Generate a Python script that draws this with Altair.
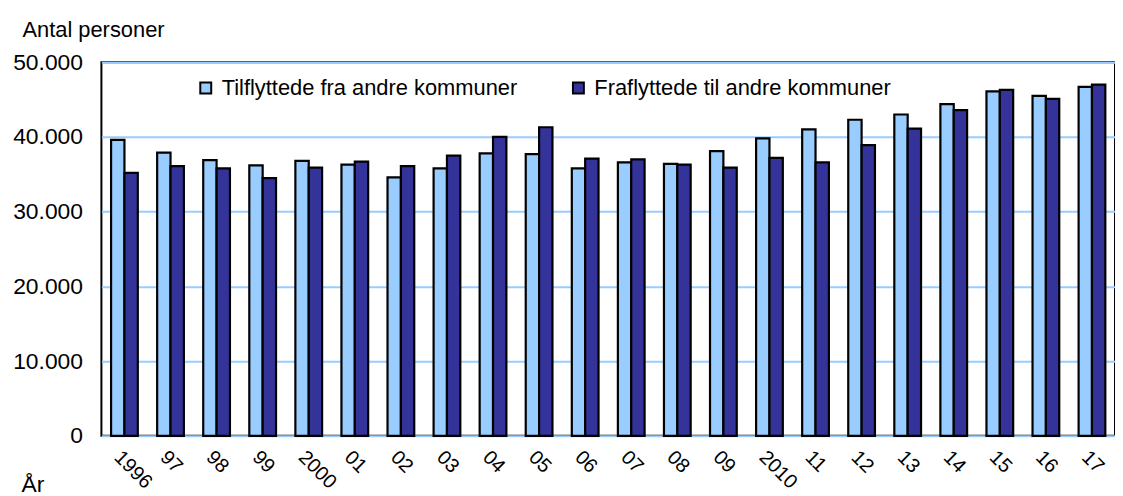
import altair as alt
import pandas as pd

years = ["1996", "97", "98", "99", "2000", "01", "02", "03", "04", "05", "06",
         "07", "08", "09", "2010", "11", "12", "13", "14", "15", "16", "17"]
series_names = ["Tilflyttede fra andre kommuner", "Fraflyttede til andre kommuner"]
tilflyttede = [39600, 37900, 36900, 36200, 36800, 36300, 34600, 35800, 37800, 37700, 35800,
               36600, 36400, 38100, 39800, 41000, 42300, 43000, 44400, 46100, 45500, 46700]
fraflyttede = [35200, 36100, 35800, 34500, 35900, 36700, 36100, 37500, 40000, 41300, 37100,
               37000, 36300, 35900, 37200, 36600, 38900, 41100, 43600, 46300, 45100, 47000]
y_ticks = [0, 10000, 20000, 30000, 40000, 50000]

rows = []
for i, yr in enumerate(years):
    rows.append({"year": yr, "serie": series_names[0], "value": tilflyttede[i]})
    rows.append({"year": yr, "serie": series_names[1], "value": fraflyttede[i]})
df = pd.DataFrame(rows)

FONT = "Liberation Sans"

chart = alt.Chart(df).mark_bar(stroke="black", strokeWidth=2.2).encode(
    x=alt.X("year:N", sort=years,
            scale=alt.Scale(paddingInner=0.42, paddingOuter=0.21),
            axis=alt.Axis(title="År", labelAngle=45, labelAlign="left", labelBaseline="top",
                          ticks=False, domain=False, labelPadding=11, labelFontSize=20,
                          titleX=-81, titleY=56, titleAlign="left", titleBaseline="alphabetic",
                          titleAngle=0, titleFontSize=23, titleFontWeight="normal")),
    xOffset=alt.XOffset("serie:N", sort=series_names,
                        scale=alt.Scale(paddingInner=0, paddingOuter=0)),
    y=alt.Y("value:Q", scale=alt.Scale(domain=[0, 50000]),
            axis=alt.Axis(values=y_ticks,
                          labelExpr="replace(format(datum.value, ','), ',', '.')",
                          grid=True, gridColor="#99CCFF", gridWidth=2,
                          ticks=False, domain=False, labelPadding=19, labelFontSize=23,
                          title="Antal personer", titleAngle=0, titleX=-80, titleY=-26,
                          titleAlign="left", titleBaseline="alphabetic",
                          titleFontWeight="normal", titleFontSize=22)),
    color=alt.Color("serie:N", sort=series_names,
                    scale=alt.Scale(domain=series_names, range=["#99CCFF", "#333399"]),
                    legend=alt.Legend(title=None, orient="none", legendX=94, legendY=15,
                                      direction="horizontal", symbolType="square",
                                      symbolSize=121, symbolStrokeColor="black",
                                      symbolStrokeWidth=2, labelFontSize=22,
                                      labelLimit=0, columnPadding=50, labelOffset=5)),
).properties(
    width=1020, height=376,
    autosize=alt.AutoSizeParams(type="none"),
    padding={"left": 94, "top": 53, "right": 0, "bottom": 62},
).configure_view(
    stroke="black", strokeWidth=2
).configure_axis(
    labelFont=FONT, titleFont=FONT, labelColor="black", titleColor="black"
).configure_legend(
    labelFont=FONT, labelColor="black"
)

chart.save("out.html", embed_options={"renderer": "svg", "actions": False})
